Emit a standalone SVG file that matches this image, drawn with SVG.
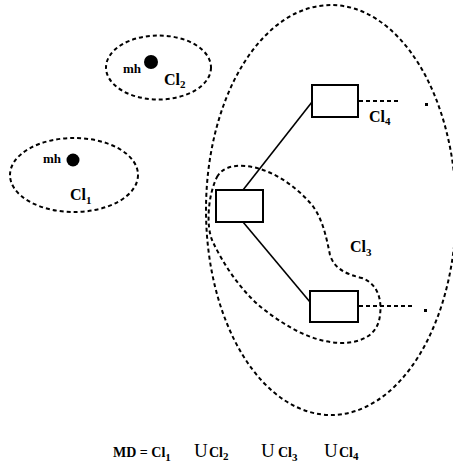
<svg xmlns="http://www.w3.org/2000/svg" width="453" height="470" viewBox="0 0 453 470">
<style>
.dot{fill:none;stroke:#000;stroke-width:2;stroke-dasharray:4 3}
.box{fill:#fff;stroke:#000;stroke-width:2}
.ln{stroke:#000;stroke-width:1.6;fill:none}
.t{font-family:"Liberation Serif",serif;fill:#000}
.lab{font-size:16px;font-weight:bold}
.mh{font-size:13px;font-weight:bold}
.sub{font-size:11px;font-weight:bold}
</style>
<rect width="453" height="470" fill="#fff"/>
<g id="clusters">
<ellipse id="cl2-region" class="dot" cx="158.5" cy="67.5" rx="52.5" ry="32"/>
<ellipse id="cl1-region" class="dot" cx="74" cy="175" rx="64" ry="37"/>
<ellipse id="cl4-region" class="dot" cx="331" cy="210" rx="125" ry="205"/>
<path id="cl3-region" class="dot" d="M217,177 C222,168 232,165 245,166 C270,168 295,185 312,205 C322,218 326,235 330,255 C334,268 345,274 362,278 C378,284 382,300 380,315 C378,335 362,343 340,343 C315,342 290,330 262,308 C240,290 222,262 212,240 C206,225 208,195 217,177 Z"/>
</g>
<g id="connectors">
<line class="ln" x1="243" y1="190" x2="312" y2="102"/>
<line class="ln" x1="243" y1="222" x2="310" y2="302"/>
<line class="dot" x1="359" y1="101" x2="398" y2="101"/>
<line class="dot" x1="359" y1="306" x2="413" y2="306"/>
<rect x="425" y="103" width="3" height="3" fill="#000"/>
<rect x="424" y="309" width="3" height="3" fill="#000"/>
</g>
<g id="node-mh2">
<circle cx="151" cy="62" r="7" fill="#000"/>
<text class="t mh" x="123" y="73">mh</text>
<text class="t lab" x="164" y="85">Cl<tspan class="sub" dy="3">2</tspan></text>
</g>
<g id="node-mh1">
<circle cx="73" cy="160" r="6.5" fill="#000"/>
<text class="t mh" x="43" y="163">mh</text>
<text class="t lab" x="70" y="200">Cl<tspan class="sub" dy="4">1</tspan></text>
</g>
<g id="node-a"><rect class="box" x="216" y="190" width="47" height="32"/></g>
<g id="node-b"><rect class="box" x="312" y="85" width="46" height="32"/></g>
<g id="node-c"><rect class="box" x="310" y="291" width="48" height="31"/></g>
<g id="labels">
<text class="t lab" x="369" y="122">Cl<tspan class="sub" dy="3">4</tspan></text>
<text class="t lab" x="350" y="252">Cl<tspan class="sub" dy="4">3</tspan></text>
</g>
<g id="formula">
<text class="t" x="113" y="457" font-size="14" font-weight="bold">MD = Cl<tspan font-size="11" dy="4">1</tspan></text>
<text class="t" x="194" y="457" font-size="19">U</text>
<text class="t" x="209" y="457" font-size="14" font-weight="bold">Cl<tspan font-size="11" dy="3">2</tspan></text>
<text class="t" x="261" y="457" font-size="19">U</text>
<text class="t" x="278" y="457" font-size="14" font-weight="bold">Cl<tspan font-size="11" dy="4">3</tspan></text>
<text class="t" x="324" y="457" font-size="19">U</text>
<text class="t" x="339" y="457" font-size="14" font-weight="bold">Cl<tspan font-size="11" dy="3">4</tspan></text>
</g>
</svg>
